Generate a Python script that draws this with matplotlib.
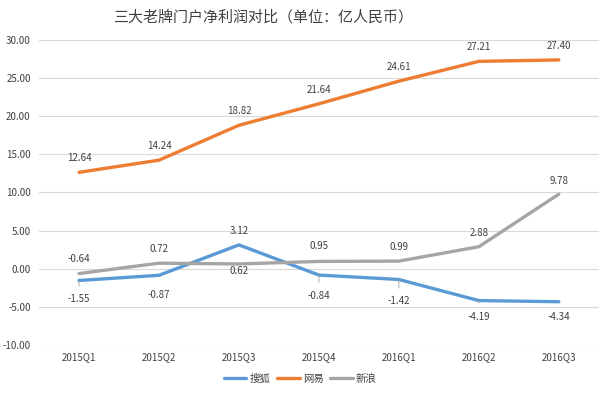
import matplotlib
matplotlib.use("Agg")
import matplotlib.pyplot as plt

plt.rcParams['font.family'] = ['Noto Sans CJK SC', 'DejaVu Sans']

categories = ["2015Q1", "2015Q2", "2015Q3", "2015Q4", "2016Q1", "2016Q2", "2016Q3"]
sohu = [-1.55, -0.87, 3.12, -0.84, -1.42, -4.19, -4.34]
netease = [12.64, 14.24, 18.82, 21.64, 24.61, 27.21, 27.40]
sina = [-0.64, 0.72, 0.62, 0.95, 0.99, 2.88, 9.78]
names = ["搜狐", "网易", "新浪"]
title = "三大老牌门户净利润对比（单位：亿人民币）"

colors = ["#5B9BD5", "#ED7D31", "#A5A5A5"]
# label offsets in pixels (dy) for each series
offs = [
    [-19, -20, 14, -21, -22, -16, -15],
    [14, 14, 14, 14, 14, 14, 14],
    [15, 14, -7, 15, 14, 14, 13],
]
leader = [
    [True, False, False, True, True, True, False],
    [False] * 7,
    [False] * 7,
]

fig = plt.figure(figsize=(6.0, 4.01), dpi=100)
ax = fig.add_axes([0.065, 0.14, 0.933, 0.76])
x = list(range(len(categories)))
series = [sohu, netease, sina]
for s, c, n in zip(series, colors, names):
    ax.plot(x, s, color=c, lw=2.4, label=n, solid_capstyle='round', zorder=3)

for s, off, ld in zip(series, offs, leader):
    for xi, v, dy, l in zip(x, s, off, ld):
        props = None
        if l:
            props = dict(arrowstyle='-', color='#A0A0A0', lw=0.6, shrinkA=4, shrinkB=0)
        ax.annotate(f"{v:.2f}", (xi, v), xytext=(0, dy), textcoords='offset pixels',
                    ha='center', va='center', fontsize=7, color='#404040',
                    arrowprops=props, zorder=4)

ax.set_xlim(-0.5, len(categories) - 0.5)
ax.set_ylim(-10, 30)
ax.set_yticks(range(-10, 31, 5))
ax.set_yticklabels([f"{v:.2f}" for v in range(-10, 31, 5)])
ax.set_xticks(x)
ax.set_xticklabels(categories)
ax.tick_params(axis='both', length=0, labelsize=7, colors='#404040')
ax.tick_params(axis='y', pad=6)
ax.tick_params(axis='x', pad=5)
ax.grid(axis='y', color='#D9D9D9', lw=0.8)
ax.set_axisbelow(True)
for sp in ax.spines.values():
    sp.set_visible(False)

fig.text(0.438, 0.957, title, ha='center', va='center', fontsize=10.8, color='#404040')
fig.legend(loc='center', bbox_to_anchor=(0.5, 0.055), ncol=3, frameon=False,
           fontsize=7.5, handlelength=2.2, handletextpad=0.3, columnspacing=0.6,
           labelcolor='#404040')

fig.savefig("out.png", dpi=100)
